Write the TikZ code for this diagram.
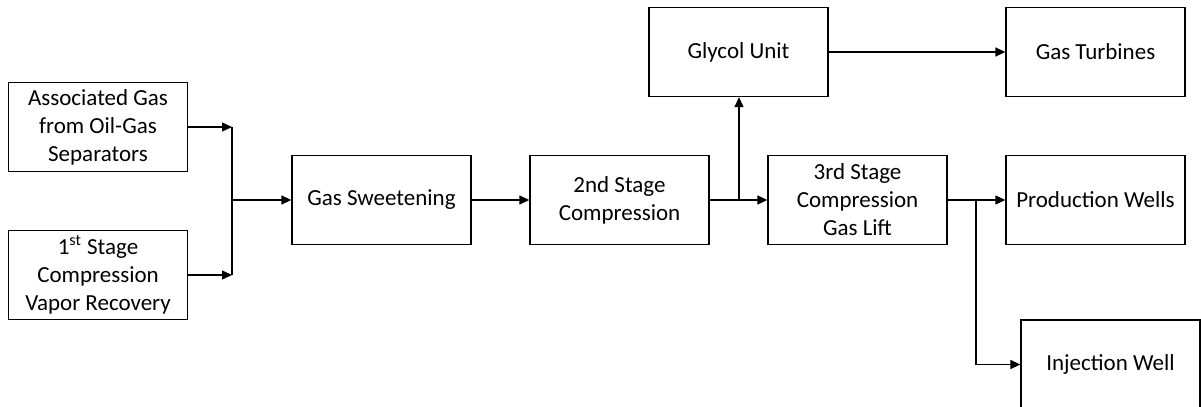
\documentclass[tikz,border=0pt]{standalone}
\usepackage{fontspec}
\setmainfont{Carlito}
\usetikzlibrary{arrows.meta}
\tikzset{
  unit/.style={draw, line width=0.65pt, minimum width=89.5pt, minimum height=44.5pt,
    align=center, inner sep=2pt, font=\fontsize{11.5}{14}\selectfont},
  flow/.style={line width=0.65pt, -{Triangle[length=5pt,width=4.5pt]}},
  pipe/.style={line width=0.65pt}
}
\begin{document}
\begin{tikzpicture}[x=0.5pt,y=-0.5pt]
  \useasboundingbox (0,0) rectangle (1201,407);
  % feed streams
  \node[unit] (sep) at (98,127) {Associated Gas\\from Oil-Gas\\Separators};
  \node[unit] (rec) at (98,275) {1\textsuperscript{st} Stage\\Compression\\Vapor Recovery};
  % main train
  \node[unit] (sweet) at (381.5,200) {Gas Sweetening};
  \node[unit] (comp2) at (619.5,200) {2nd Stage\\Compression};
  \node[unit] (comp3) at (857.5,200) {3rd Stage\\Compression\\Gas Lift};
  \node[unit] (prod) at (1095.5,200) {Production Wells};
  % fuel gas
  \node[unit] (glycol) at (738.5,52) {Glycol Unit};
  \node[unit] (turb) at (1095.5,52) {Gas Turbines};
  % injection
  \node[unit] (inj) at (1110.5,364.5) {Injection Well};
  % junctions
  \coordinate (m1) at (232,200);
  \coordinate (b1) at (739,200);
  \coordinate (b2) at (976,200);
  % connectors
  \draw[flow] (sep.east) -- (sep.east -| m1);
  \draw[flow] (rec.east) -- (rec.east -| m1);
  \draw[pipe] (sep.east -| m1) -- (rec.east -| m1);
  \draw[flow] (m1) -- (sweet);
  \draw[flow] (sweet) -- (comp2);
  \draw[flow] (comp2) -- (comp3);
  \draw[flow] (b1) -- (b1 |- glycol.south);
  \draw[flow] (glycol) -- (turb);
  \draw[flow] (comp3) -- (prod);
  \draw[flow] (b2) |- (inj);
\end{tikzpicture}
\end{document}
